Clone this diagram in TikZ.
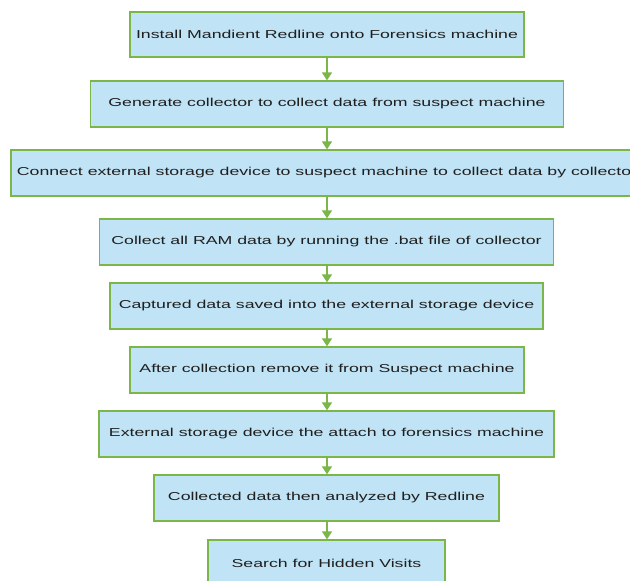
\documentclass[tikz,border=0pt]{standalone}
\usepackage{fontspec}
\setmainfont{Liberation Sans}
\usetikzlibrary{arrows.meta}
\definecolor{boxfill}{HTML}{C0E3F5}
\definecolor{boxline}{HTML}{7AB648}
\newcommand{\wide}[1]{\scalebox{1.54}[1]{#1}}
\tikzset{
  flowbox/.style={draw=boxline, fill=boxfill, line width=1.3pt, rectangle, inner sep=0pt, align=center, font=\fontsize{11.5}{13}\selectfont, text=black!88},
  flowarrow/.style={draw=boxline, line width=1.5pt, -{Triangle[width=10pt,length=8pt]}}
}
\begin{document}
\begin{tikzpicture}[x=1pt,y=-1pt]
\useasboundingbox (0,0) rectangle (630,581);
\clip (0,0) rectangle (630,581);
\node[flowbox, minimum width=394pt, minimum height=45pt] (n1) at (327,34.5) {\wide{Install Mandient Redline onto Forensics machine}};
\node[flowbox, minimum width=473pt, minimum height=46pt] (n2) at (327,104) {\wide{Generate collector to collect data from suspect machine}};
\node[flowbox, minimum width=632pt, minimum height=46pt] (n3) at (327,173) {\wide{Connect external storage device to suspect machine to collect data by collector}};
\node[flowbox, minimum width=454pt, minimum height=46pt] (n4) at (326.5,242) {\wide{Collect all RAM data by running the .bat file of collector}};
\node[flowbox, minimum width=433pt, minimum height=46pt] (n5) at (326.5,306) {\wide{Captured data saved into the external storage device}};
\node[flowbox, minimum width=394pt, minimum height=46pt] (n6) at (327,370) {\wide{After collection remove it from Suspect machine}};
\node[flowbox, minimum width=455pt, minimum height=46pt] (n7) at (326.5,434) {\wide{External storage device the attach to forensics machine}};
\node[flowbox, minimum width=345pt, minimum height=46pt] (n8) at (326.5,498) {\wide{Collected data then analyzed by Redline}};
\node[flowbox, minimum width=237pt, minimum height=46pt] (n9) at (326.5,563) {\wide{Search for Hidden Visits}};
\foreach \a/\b in {n1/n2,n2/n3,n3/n4,n4/n5,n5/n6,n6/n7,n7/n8,n8/n9}{
  \draw[flowarrow] (\a.south -| 327,0) -- (\b.north -| 327,0);
}
\end{tikzpicture}
\end{document}
